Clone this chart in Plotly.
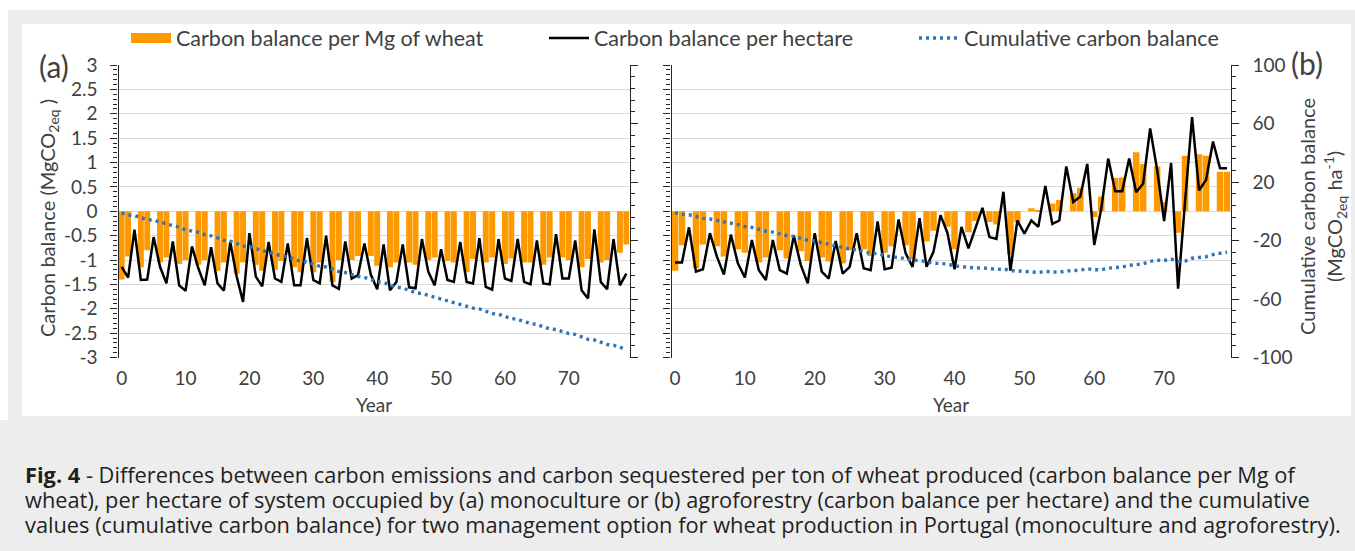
import plotly.graph_objects as go

W, H = 1355, 551
FONT = "Lato"
CAPFONT = "Open Sans"
TXT = "#404040"


def px(x):
    return x / W


def py(y):
    return 1 - y / H


# ---------------- data ----------------
years = list(range(80))
x_tick_vals = [0, 10, 20, 30, 40, 50, 60, 70]
x_tick_labels = ["0", "10", "20", "30", "40", "50", "60", "70"]
left_tick_labels = ["-3", "-2.5", "-2", "-1.5", "-1", "-0.5", "0", "0.5", "1", "1.5", "2", "2.5", "3"]
right_tick_labels = ["-100", "-60", "-20", "20", "60", "100"]

# (a) monoculture
bars_a = [-1.40, -0.93, None, -1.15, -0.80, None, -1.05, -0.95, None, -1.08,
          -1.00, None, -1.10, -1.00, None, -1.22, -1.05, None, -1.28, -1.05,
          None, -1.10, -1.22, None, -1.20, -1.02, None, -1.15, -1.25, None,
          -1.25, -1.05, None, -1.45, -1.00, None, -1.00, -0.92, None, -0.92,
          -1.12, None, -1.15, -1.05, None, -1.05, -1.10, None, -1.00, -0.95,
          None, -1.02, -1.05, None, -1.25, -0.98, None, -1.05, -0.95, None,
          -1.08, -0.97, None, -1.05, -1.05, None, -1.10, -0.95, None, -0.95,
          -1.00, None, -1.15, -0.98, None, -1.05, -1.00, None, -0.85, -0.68]
line_a = [-1.14, -1.36, -0.38, -1.41, -1.40, -0.53, -1.14, -1.48, -0.62, -1.52,
          -1.63, -0.72, -1.17, -1.52, -0.74, -1.48, -1.63, -0.63, -1.34, -1.86,
          -0.45, -1.34, -1.54, -0.63, -1.38, -1.45, -0.66, -1.52, -1.52, -0.55,
          -1.41, -1.48, -0.50, -1.52, -1.59, -0.62, -1.38, -1.31, -0.66, -1.30,
          -1.60, -0.68, -1.62, -1.45, -0.68, -1.56, -1.58, -0.57, -1.24, -1.52,
          -0.78, -1.41, -1.45, -0.63, -1.45, -1.48, -0.55, -1.55, -1.61, -0.57,
          -1.38, -1.43, -0.57, -1.45, -1.50, -0.60, -1.48, -1.50, -0.47, -1.38,
          -1.38, -0.60, -1.62, -1.79, -0.37, -1.45, -1.60, -0.57, -1.52, -1.28]
cum_a = [-1.1, -2.5, -2.9, -4.3, -5.7, -6.2, -7.4, -8.8, -9.5, -11.0,
         -12.6, -13.3, -14.5, -16.0, -16.8, -18.2, -19.9, -20.5, -21.8, -23.7,
         -24.2, -25.5, -27.0, -27.7, -29.0, -30.5, -31.2, -32.7, -34.2, -34.7,
         -36.2, -37.6, -38.1, -39.7, -41.2, -41.9, -43.2, -44.6, -45.2, -46.5,
         -48.1, -48.8, -50.4, -51.9, -52.5, -54.1, -55.7, -56.3, -57.5, -59.0,
         -59.8, -61.2, -62.7, -63.3, -64.7, -66.2, -66.8, -68.3, -69.9, -70.5,
         -71.9, -73.3, -73.9, -75.3, -76.8, -77.4, -78.9, -80.4, -80.9, -82.3,
         -83.6, -84.2, -85.9, -87.6, -88.0, -89.5, -91.1, -91.6, -93.2, -94.4]

# (b) agroforestry
bars_b = [-1.22, -0.70, None, -1.17, -0.68, None, -0.72, -0.93, None, -0.78,
          -0.85, None, -1.05, -0.95, None, -0.80, -0.97, None, -0.82, -1.02,
          None, -0.95, -1.03, None, -1.07, -0.80, None, -0.78, -0.92, None,
          -0.85, -0.72, None, -0.70, -0.98, None, -0.62, -0.40, None, -0.32,
          -0.78, None, -0.43, -0.20, None, -0.22, -0.27, None, -0.88, -0.22,
          None, 0.06, 0.02, None, 0.16, 0.23, None, 0.37, 0.48, None,
          -0.12, 0.30, None, 0.68, 0.69, None, 1.21, 0.97, None, 0.92,
          0.19, None, -0.44, 1.14, None, 1.17, 1.14, None, 0.81, 0.81]
line_b = [-1.05, -1.05, -0.33, -1.24, -1.19, -0.45, -0.93, -1.30, -0.48, -1.07,
          -1.36, -0.59, -1.21, -1.41, -0.59, -1.21, -1.28, -0.50, -1.10, -1.48,
          -0.45, -1.24, -1.38, -0.61, -1.28, -1.14, -0.45, -1.17, -1.21, -0.21,
          -1.19, -1.16, -0.17, -0.86, -1.14, -0.14, -1.14, -0.83, -0.08, -0.45,
          -1.19, -0.32, -0.76, -0.36, 0.07, -0.53, -0.57, 0.40, -1.22, -0.19,
          -0.46, -0.19, -0.32, 0.52, -0.26, -0.19, 0.92, 0.19, 0.30, 0.97,
          -0.69, 0.05, 1.08, 0.41, 0.41, 1.08, 0.39, 0.57, 1.70, 0.85,
          -0.20, 0.99, -1.59, 0.20, 1.93, 0.43, 0.64, 1.43, 0.88, 0.88]
cum_b = [-1.1, -2.1, -2.4, -3.7, -4.9, -5.3, -6.2, -7.5, -8.0, -9.1,
         -10.5, -11.0, -12.3, -13.7, -14.3, -15.5, -16.7, -17.2, -18.3, -19.8,
         -20.3, -21.5, -22.9, -23.5, -24.8, -25.9, -26.4, -27.5, -28.8, -29.0,
         -30.2, -31.3, -31.5, -32.3, -33.5, -33.6, -34.8, -35.6, -35.7, -36.1,
         -37.3, -37.6, -38.4, -38.8, -38.7, -39.2, -39.8, -39.4, -40.6, -40.8,
         -41.3, -41.4, -41.8, -41.2, -41.5, -41.7, -40.8, -40.6, -40.3, -39.3,
         -40.0, -40.0, -38.9, -38.5, -38.1, -37.0, -36.6, -36.0, -34.3, -33.5,
         -33.7, -32.7, -34.3, -34.1, -32.1, -31.7, -31.1, -29.6, -28.8, -27.9]

name_bar = "Carbon balance per Mg of wheat"
name_line = "Carbon balance per hectare"
name_cum = "Cumulative carbon balance"

caption_lines = [
    "<b>Fig. 4</b> - Differences between carbon emissions and carbon sequestered per ton of wheat produced (carbon balance per Mg of",
    "wheat), per hectare of system occupied by (a) monoculture or (b) agroforestry (carbon balance per hectare) and the cumulative",
    "values (cumulative carbon balance) for two management option for wheat production in Portugal (monoculture and agroforestry).",
]

# ---------------- style ----------------
ORANGE = "#FF9900"
BLUE = "#2E75B6"
BLACK = "#000000"
AXC = "#262626"
GRID = "#d9d9d9"

left_vals = [float(v) for v in left_tick_labels]
right_vals = [float(v) for v in right_tick_labels]

fig = go.Figure()

for xa, ya, yr, bars, line, cum, show in (
    ("x", "y", "y2", bars_a, line_a, cum_a, True),
    ("x2", "y3", "y4", bars_b, line_b, cum_b, False),
):
    fig.add_trace(go.Bar(x=years, y=bars, xaxis=xa, yaxis=ya, marker=dict(color=ORANGE, line=dict(width=0)),
                         name=name_bar, showlegend=False, hoverinfo="skip"))
    fig.add_trace(go.Scatter(x=years, y=line, xaxis=xa, yaxis=ya, mode="lines",
                             line=dict(color=BLACK, width=2.5), name=name_line,
                             showlegend=show, legend="legend2"))
    fig.add_trace(go.Scatter(x=years, y=cum, xaxis=xa, yaxis=yr, mode="lines",
                             line=dict(color=BLUE, width=3.4, dash="3px,4px"), name=name_cum,
                             showlegend=show, legend="legend3"))

# legend swatch for the bars (wide orange block like the original)
fig.add_trace(go.Scatter(x=[None], y=[None], xaxis="x", yaxis="y", mode="lines",
                         line=dict(color=ORANGE, width=12), name=name_bar,
                         showlegend=True, legend="legend"))

ydom = [py(357.5), py(65)]
zero_pos = (ydom[0] + ydom[1]) / 2
dom_a = [px(118.5), px(629.5)]
dom_b = [px(671.5), px(1230.5)]

tickfont = dict(family=FONT, size=19, color=TXT)


def xaxis_main(dom, anchor):
    return dict(domain=dom, anchor=anchor, range=[-0.5, 79.5], tickmode="array",
                tickvals=x_tick_vals, ticktext=x_tick_labels, showline=False, ticks="",
                showgrid=False, zeroline=False, tickfont=tickfont, ticklabelstandoff=7,
                fixedrange=True)


def xaxis_zero(over):
    return dict(overlaying=over, anchor="free", position=zero_pos, range=[-0.5, 79.5],
                showline=True, linecolor=AXC, linewidth=1.6, ticks="outside", ticklen=4,
                tickwidth=1, tickcolor=AXC, tickmode="linear", tick0=-0.5, dtick=1,
                showticklabels=False, showgrid=False, zeroline=False)


def yaxis_left(anchor, labels):
    return dict(domain=ydom, anchor=anchor, range=[-3, 3], tickmode="array",
                tickvals=left_vals, ticktext=left_tick_labels, showticklabels=labels,
                showgrid=True, gridcolor=GRID, gridwidth=1.2, showline=True, linecolor=AXC,
                linewidth=1.2, ticks="outside", ticklen=7, tickcolor=AXC, tickwidth=1,
                minor=dict(tickmode="linear", tick0=0, dtick=0.1, ticks="outside", ticklen=4,
                           tickcolor=AXC, showgrid=False),
                zeroline=False, tickfont=tickfont, ticklabelstandoff=9)


def yaxis_right(over, anchor, labels):
    return dict(overlaying=over, anchor=anchor, side="right", range=[-100, 100],
                tickmode="array", tickvals=right_vals, ticktext=right_tick_labels,
                showticklabels=labels, showgrid=False, showline=True, linecolor=AXC,
                linewidth=1.2, ticks="outside", ticklen=7, tickcolor=AXC, tickwidth=1,
                minor=dict(tickmode="linear", tick0=-100, dtick=8, ticks="outside", ticklen=4,
                           tickcolor=AXC, showgrid=False),
                zeroline=False, tickfont=tickfont, ticklabelstandoff=10)


legend_common = dict(orientation="h", xanchor="left", yanchor="middle", bgcolor="rgba(0,0,0,0)",
                     font=dict(family=FONT, size=21.5, color=TXT), itemwidth=40,
                     itemclick=False, itemdoubleclick=False, borderwidth=0)

annotations = [
    dict(text="(a)", x=px(54), y=py(66), font=dict(family=FONT, size=30, color=TXT)),
    dict(text="(b)", x=px(1307), y=py(63), font=dict(family=FONT, size=30, color=TXT)),
    dict(text="Year", x=px(374), y=py(404), font=dict(family=FONT, size=19, color=TXT)),
    dict(text="Year", x=px(951), y=py(404), font=dict(family=FONT, size=19, color=TXT)),
    dict(text="Carbon balance (MgCO<sub>2eq</sub> )", x=px(48), y=py(218), textangle=-90,
         font=dict(family=FONT, size=20, color=TXT)),
    dict(text="Cumulative carbon balance", x=px(1307), y=py(217), textangle=-90,
         font=dict(family=FONT, size=20, color=TXT)),
    dict(text="(MgCO<sub>2eq</sub> ha<sup>-1</sup>)", x=px(1335), y=py(217), textangle=-90,
         font=dict(family=FONT, size=20, color=TXT)),
]
for txt, yy in zip(caption_lines, [475, 499.5, 524]):
    annotations.append(dict(text=txt, x=px(23), y=py(yy), xanchor="left",
                            font=dict(family=CAPFONT, size=21.8, color="#1f1f1f")))
for a in annotations:
    a.setdefault("xref", "paper")
    a.setdefault("yref", "paper")
    a.setdefault("showarrow", False)
    a.setdefault("xanchor", "center")
    a.setdefault("yanchor", "middle")

shapes = [
    dict(type="rect", xref="paper", yref="paper", x0=0, x1=1, y0=py(10), y1=1,
         fillcolor="white", line=dict(width=0), layer="below"),
    dict(type="rect", xref="paper", yref="paper", x0=0, x1=px(8), y0=py(420), y1=1,
         fillcolor="white", line=dict(width=0), layer="below"),
    dict(type="rect", xref="paper", yref="paper", x0=px(22), x1=px(1351), y0=py(416), y1=py(24),
         fillcolor="white", line=dict(width=0), layer="below"),
]

fig.update_layout(
    width=W, height=H, autosize=False,
    margin=dict(l=0, r=0, t=0, b=0, autoexpand=False),
    paper_bgcolor="#ededed", plot_bgcolor="rgba(0,0,0,0)",
    barmode="group", bargap=0.07,
    font=dict(family=FONT, color=TXT),
    xaxis=xaxis_main(dom_a, "y"),
    xaxis2=xaxis_main(dom_b, "y3"),
    xaxis3=xaxis_zero("x"),
    xaxis4=xaxis_zero("x2"),
    yaxis=yaxis_left("x", True),
    yaxis2=yaxis_right("y", "x", False),
    yaxis3=yaxis_left("x2", False),
    yaxis4=yaxis_right("y3", "x2", True),
    legend=dict(legend_common, x=px(126), y=py(38)),
    legend2=dict(legend_common, x=px(544), y=py(38)),
    legend3=dict(legend_common, x=px(914), y=py(38)),
    annotations=annotations,
    shapes=shapes,
    showlegend=True,
    hovermode=False,
)

fig.write_html("out.html", config={"displayModeBar": False},
               post_script="document.body.style.margin='0px';")
